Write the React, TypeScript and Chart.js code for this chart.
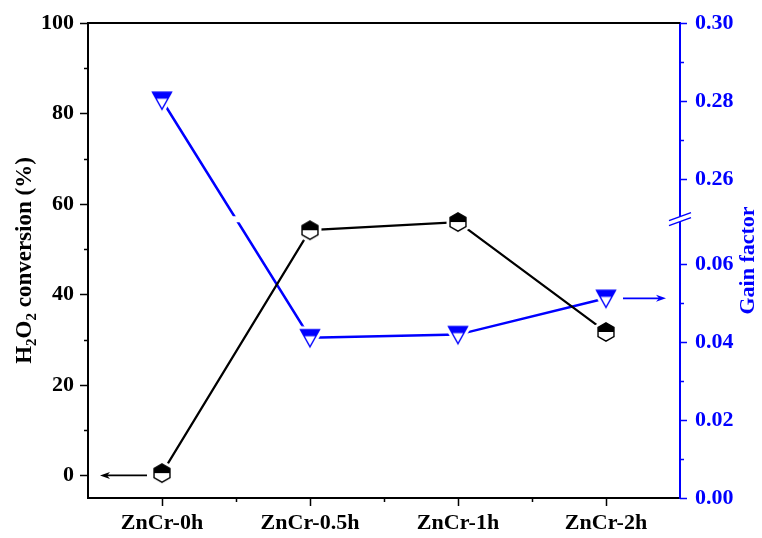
import React, { useEffect, useRef } from "react";
import { Chart, registerables } from "chart.js";

Chart.register(...registerables);

// Samples along the x axis
const categories = ["ZnCr-0h", "ZnCr-0.5h", "ZnCr-1h", "ZnCr-2h"];
// H2O2 conversion (%), left axis
const conversion = [0.5, 54.2, 56.0, 31.7];
// Gain factor, right (broken) axis
const gainFactor = [0.2802, 0.0411, 0.0419, 0.0512];

// Left axis ticks
const leftMajorTicks = [0, 20, 40, 60, 80, 100];
const leftMinorTicks = [10, 30, 50, 70, 90];
// Right axis ticks (real gain-factor values)
const rightMajorTicks = [0, 0.02, 0.04, 0.06, 0.26, 0.28, 0.3];
const rightMinorTicks = [0.01, 0.03, 0.05, 0.27, 0.29];
// Right axis break: values between these two are skipped
const breakLow = 0.0715;
const breakHigh = 0.2497;

const BLUE = "#0000ff";
const FONT = "'Liberation Serif', 'Times New Roman', serif";

// Map a real gain-factor value onto the continuous (compressed) right scale
const toAxis = (v: number) => (v <= breakLow ? v : v - (breakHigh - breakLow));

function makeHexagon(): HTMLCanvasElement {
  const c = document.createElement("canvas");
  c.width = 30;
  c.height = 30;
  const ctx = c.getContext("2d")!;
  const cx = 15, cy = 15, R = 9.2;
  const path = () => {
    ctx.beginPath();
    for (let i = 0; i < 6; i++) {
      const a = -Math.PI / 2 + (i * Math.PI) / 3;
      const x = cx + R * Math.cos(a);
      const y = cy + R * Math.sin(a);
      if (i === 0) ctx.moveTo(x, y);
      else ctx.lineTo(x, y);
    }
    ctx.closePath();
  };
  // white halo that opens a gap in the connecting line
  path();
  ctx.lineWidth = 7;
  ctx.strokeStyle = "#fff";
  ctx.stroke();
  ctx.fillStyle = "#fff";
  ctx.fill();
  // upper half filled
  ctx.save();
  ctx.beginPath();
  ctx.rect(0, 0, 30, cy);
  ctx.clip();
  path();
  ctx.fillStyle = "#000";
  ctx.fill();
  ctx.restore();
  path();
  ctx.lineWidth = 1.4;
  ctx.strokeStyle = "#000";
  ctx.stroke();
  return c;
}

function makeDownTriangle(): HTMLCanvasElement {
  const c = document.createElement("canvas");
  c.width = 32;
  c.height = 32;
  const ctx = c.getContext("2d")!;
  const cx = 16, cy = 16;
  const top = cy - 8, bottom = cy + 9, half = 9.5;
  const path = () => {
    ctx.beginPath();
    ctx.moveTo(cx - half, top);
    ctx.lineTo(cx + half, top);
    ctx.lineTo(cx, bottom);
    ctx.closePath();
  };
  path();
  ctx.lineWidth = 7;
  ctx.strokeStyle = "#fff";
  ctx.lineJoin = "round";
  ctx.stroke();
  ctx.fillStyle = "#fff";
  ctx.fill();
  ctx.save();
  ctx.beginPath();
  ctx.rect(0, 0, 32, top + 6.5);
  ctx.clip();
  path();
  ctx.fillStyle = BLUE;
  ctx.fill();
  ctx.restore();
  path();
  ctx.lineJoin = "miter";
  ctx.lineWidth = 1.4;
  ctx.strokeStyle = BLUE;
  ctx.stroke();
  return c;
}

type Seg = { t: string; sub?: boolean };

function drawRotatedTitle(
  ctx: CanvasRenderingContext2D,
  segs: Seg[],
  x: number,
  y: number,
  size: number,
  color: string
) {
  const subSize = Math.round(size * 0.65);
  const fontFor = (s: Seg) => `bold ${s.sub ? subSize : size}px ${FONT}`;
  let total = 0;
  const widths = segs.map((s) => {
    ctx.font = fontFor(s);
    const w = ctx.measureText(s.t).width;
    total += w;
    return w;
  });
  ctx.save();
  ctx.translate(x, y);
  ctx.rotate(-Math.PI / 2);
  ctx.fillStyle = color;
  ctx.textBaseline = "middle";
  ctx.textAlign = "left";
  let cur = -total / 2;
  segs.forEach((s, i) => {
    ctx.font = fontFor(s);
    ctx.fillText(s.t, cur, s.sub ? size * 0.3 : 0);
    cur += widths[i];
  });
  ctx.restore();
}

function drawArrow(
  ctx: CanvasRenderingContext2D,
  x0: number,
  x1: number,
  y: number,
  color: string
) {
  const dir = Math.sign(x1 - x0);
  ctx.save();
  ctx.strokeStyle = color;
  ctx.fillStyle = color;
  ctx.lineWidth = 1.6;
  ctx.beginPath();
  ctx.moveTo(x0, y);
  ctx.lineTo(x1 - dir * 6, y);
  ctx.stroke();
  ctx.beginPath();
  ctx.moveTo(x1, y);
  ctx.lineTo(x1 - dir * 10, y - 3.5);
  ctx.lineTo(x1 - dir * 7, y);
  ctx.lineTo(x1 - dir * 10, y + 3.5);
  ctx.closePath();
  ctx.fill();
  ctx.restore();
}

const decorations = {
  id: "decorations",
  beforeDatasetDraw(chart: any, args: any) {
    if (args.index !== 1) return;
    // gap in the gain-factor line at the axis break
    const ctx = chart.ctx;
    const by = chart.scales.y1.getPixelForValue(toAxis(breakLow));
    ctx.save();
    ctx.beginPath();
    ctx.rect(0, 0, chart.width, by - 3);
    ctx.rect(0, by + 3, chart.width, chart.height - by - 3);
    ctx.clip();
  },
  afterDatasetDraw(chart: any, args: any) {
    if (args.index !== 1) return;
    chart.ctx.restore();
  },
  afterDraw(chart: any) {
    const ctx: CanvasRenderingContext2D = chart.ctx;
    const { left, right, top, bottom } = chart.chartArea;
    const xs = chart.scales.x;
    const ys = chart.scales.y;
    const y1 = chart.scales.y1;

    ctx.save();
    // top frame line
    ctx.strokeStyle = "#000";
    ctx.lineWidth = 2;
    ctx.beginPath();
    ctx.moveTo(left - 1, top);
    ctx.lineTo(right, top);
    ctx.stroke();

    // left axis tick marks
    ctx.lineWidth = 1.5;
    ctx.beginPath();
    leftMajorTicks.forEach((v) => {
      const p = Math.round(ys.getPixelForValue(v)) + 0.5;
      ctx.moveTo(left, p);
      ctx.lineTo(left - 8, p);
    });
    leftMinorTicks.forEach((v) => {
      const p = Math.round(ys.getPixelForValue(v)) + 0.5;
      ctx.moveTo(left, p);
      ctx.lineTo(left - 4, p);
    });
    ctx.stroke();

    // bottom axis tick marks
    ctx.beginPath();
    categories.forEach((_, i) => {
      const p = Math.round(xs.getPixelForValue(i)) + 0.5;
      ctx.moveTo(p, bottom);
      ctx.lineTo(p, bottom + 8);
      if (i < categories.length - 1) {
        const m = Math.round((xs.getPixelForValue(i) + xs.getPixelForValue(i + 1)) / 2) + 0.5;
        ctx.moveTo(m, bottom);
        ctx.lineTo(m, bottom + 4);
      }
    });
    ctx.stroke();

    // right axis tick marks
    ctx.strokeStyle = BLUE;
    ctx.beginPath();
    rightMajorTicks.forEach((v) => {
      const p = Math.round(y1.getPixelForValue(toAxis(v))) + 0.5;
      ctx.moveTo(right, p);
      ctx.lineTo(right + 7, p);
    });
    rightMinorTicks.forEach((v) => {
      const p = Math.round(y1.getPixelForValue(toAxis(v))) + 0.5;
      ctx.moveTo(right, p);
      ctx.lineTo(right + 4, p);
    });
    ctx.stroke();

    // break symbol on the right axis
    const by = y1.getPixelForValue(toAxis(breakLow));
    ctx.fillStyle = "#fff";
    ctx.beginPath();
    ctx.moveTo(right - 11, by + 1.5);
    ctx.lineTo(right + 11, by - 6.5);
    ctx.lineTo(right + 11, by - 1.5);
    ctx.lineTo(right - 11, by + 6.5);
    ctx.closePath();
    ctx.fill();
    ctx.lineWidth = 1.5;
    ctx.beginPath();
    ctx.moveTo(right - 11, by + 1.5);
    ctx.lineTo(right + 11, by - 6.5);
    ctx.moveTo(right - 11, by + 6.5);
    ctx.lineTo(right + 11, by - 1.5);
    ctx.stroke();
    ctx.restore();

    // arrows pointing each series to its axis
    const yConv0 = ys.getPixelForValue(0);
    drawArrow(ctx, xs.getPixelForValue(0) - 15, left + 12, yConv0, "#000");
    const yGain = y1.getPixelForValue(toAxis(gainFactor[3]));
    drawArrow(ctx, xs.getPixelForValue(3) + 17, right - 14, yGain, BLUE);

    // axis titles
    const midY = (top + bottom) / 2;
    drawRotatedTitle(
      ctx,
      [{ t: "H" }, { t: "2", sub: true }, { t: "O" }, { t: "2", sub: true }, { t: " conversion (%)" }],
      25,
      midY,
      23,
      "#000"
    );
    drawRotatedTitle(ctx, [{ t: "Gain factor" }], 748, midY, 22, BLUE);
  },
};

export default function App() {
  const ref = useRef<HTMLCanvasElement | null>(null);

  useEffect(() => {
    if (!ref.current) return;
    const hex = makeHexagon();
    const tri = makeDownTriangle();
    const tickFont = { family: FONT, size: 22, weight: "bold" as const };

    const fitVertical = (width: number) => (s: any) => {
      s.width = width;
      s.paddingTop = 0;
      s.paddingBottom = 0;
    };

    const chart = new Chart(ref.current, {
      type: "line",
      data: {
        labels: categories,
        datasets: [
          {
            label: "H2O2 conversion",
            data: conversion,
            yAxisID: "y",
            borderColor: "#000",
            borderWidth: 2.2,
            pointStyle: hex as any,
            pointRadius: 8,
            tension: 0,
          },
          {
            label: "Gain factor",
            data: gainFactor.map(toAxis),
            yAxisID: "y1",
            borderColor: BLUE,
            borderWidth: 2.5,
            pointStyle: tri as any,
            pointRadius: 8,
            tension: 0,
          },
        ],
      },
      options: {
        animation: false,
        responsive: false,
        maintainAspectRatio: false,
        layout: { padding: { top: 23, left: 0, right: 0, bottom: 0 } },
        plugins: {
          legend: { display: false },
          tooltip: { enabled: false },
        },
        events: [],
        scales: {
          x: {
            type: "category",
            offset: true,
            grid: { display: true, drawOnChartArea: false, drawTicks: false },
            border: { display: true, color: "#000", width: 2 },
            ticks: { color: "#000", font: tickFont, padding: 12, maxRotation: 0 },
            afterFit: (s: any) => {
              s.height = 40;
              s.paddingLeft = 0;
              s.paddingRight = 0;
            },
          },
          y: {
            type: "linear",
            position: "left",
            min: -5,
            max: 100,
            grid: { display: true, drawOnChartArea: false, drawTicks: false },
            border: { display: true, color: "#000", width: 2 },
            ticks: { color: "#000", font: tickFont, padding: 14, callback: (v: any) => String(v) },
            afterBuildTicks: (s: any) => {
              s.ticks = leftMajorTicks.map((v) => ({ value: v }));
            },
            afterFit: fitVertical(88),
          },
          y1: {
            type: "linear",
            position: "right",
            min: 0,
            max: toAxis(0.3),
            grid: { display: true, drawOnChartArea: false, drawTicks: false },
            border: { display: true, color: BLUE, width: 2 },
            ticks: {
              color: BLUE,
              font: tickFont,
              padding: 15,
              callback: (_v: any, i: number) => rightMajorTicks[i].toFixed(2),
            },
            afterBuildTicks: (s: any) => {
              s.ticks = rightMajorTicks.map((v) => ({ value: toAxis(v) }));
            },
            afterFit: fitVertical(82),
          },
        },
      },
      plugins: [decorations],
    });
    return () => chart.destroy();
  }, []);

  return (
    <div style={{ position: "absolute", left: 0, top: 0, width: 762, height: 538, background: "#fff" }}>
      <canvas ref={ref} width={762} height={538} />
    </div>
  );
}
